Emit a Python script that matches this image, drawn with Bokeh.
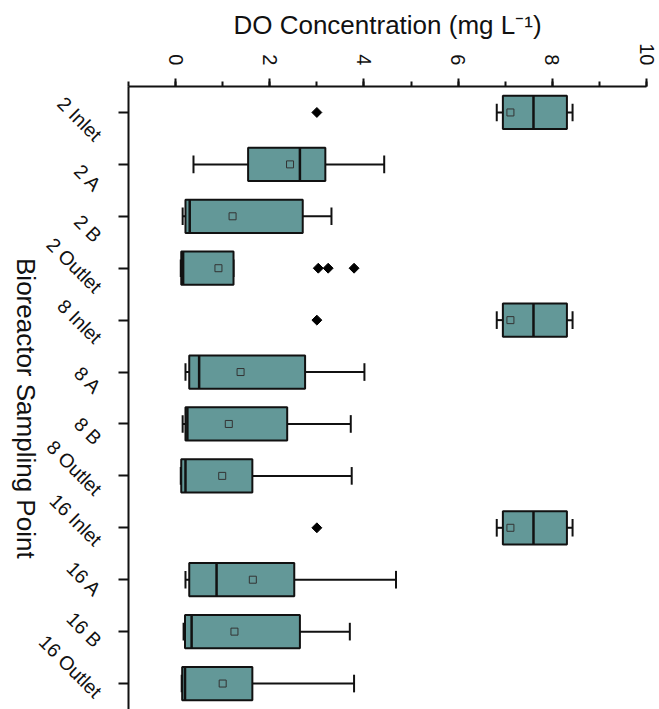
import math
import numpy as np
from bokeh.plotting import figure
from bokeh.layouts import row
from bokeh.models import Range1d, FixedTicker, SingleIntervalTicker, ColumnDataSource
from bokeh.core.properties import value
from bokeh.embed import file_html
from bokeh.resources import INLINE

categories = ["2 Inlet", "2 A", "2 B", "2 Outlet", "8 Inlet", "8 A", "8 B", "8 Outlet",
              "16 Inlet", "16 A", "16 B", "16 Outlet"]
whisker_low = [6.82, 0.38, 0.15, 0.11, 6.82, 0.21, 0.15, 0.11, 6.82, 0.21, 0.17, 0.13]
q1 = [6.95, 1.54, 0.21, 0.12, 6.95, 0.29, 0.21, 0.12, 6.95, 0.29, 0.20, 0.14]
median = [7.60, 2.64, 0.30, 0.16, 7.60, 0.50, 0.25, 0.21, 7.60, 0.87, 0.34, 0.20]
q3 = [8.31, 3.18, 2.70, 1.23, 8.31, 2.75, 2.37, 1.63, 8.31, 2.52, 2.64, 1.63]
whisker_high = [8.43, 4.43, 3.31, 1.23, 8.43, 4.01, 3.72, 3.74, 8.43, 4.68, 3.70, 3.79]
mean = [7.11, 2.43, 1.21, 0.91, 7.11, 1.38, 1.13, 0.99, 7.11, 1.64, 1.25, 1.00]
outlier_cat = ["2 Inlet", "2 Outlet", "2 Outlet", "2 Outlet", "8 Inlet", "16 Inlet"]
outlier_val = [3.00, 3.03, 3.24, 3.79, 3.00, 3.00]
x_title = "DO Concentration (mg L\u207b\u00b9)"
y_title = ["Bioreactor Sampling Point"]

FONT = "Liberation Sans"
FILL = "#639898"
INK = "#111111"
BOX_H = 0.64
CAP_H = 0.34
LABEL_DROP = 0.2
LEFT_W = 118
TICK_OUT = 10
TOP = 86
TOP_L = 70
H = 709

ypos = np.arange(1, len(categories) + 1)
src = ColumnDataSource(dict(
    y=ypos, lo=whisker_low, q1=q1, med=median, q3=q3, hi=whisker_high, mean=mean,
    yb0=ypos - BOX_H / 2, yb1=ypos + BOX_H / 2,
    yc0=ypos - CAP_H / 2, yc1=ypos + CAP_H / 2,
))
out_y = [categories.index(c) + 1 for c in outlier_cat]
y_lo, y_hi = 12.5, 0.5
y_range = Range1d(y_lo, y_hi)
units_per_px = (y_lo - y_hi) / (H - TOP)

# ---- left panel: vertical axis title and slanted category labels ----
# same vertical scale as the main plot; its frame starts a little higher
lp = figure(width=LEFT_W, height=H, output_backend="svg", toolbar_location=None,
            title=None,
            x_range=Range1d(0, LEFT_W),
            y_range=Range1d(y_lo, y_hi - (TOP - TOP_L) * units_per_px),
            x_axis_type=None, y_axis_type=None,
            min_border_left=0, min_border_right=0, min_border_top=TOP_L, min_border_bottom=0)
lp.outline_line_color = None
lp.xgrid.visible = False
lp.ygrid.visible = False
lp.text(x=[25], y=[6.55], text=y_title, angle=-math.pi / 2,
        text_align="center", text_baseline="middle", text_font=value(FONT),
        text_font_size="26px", text_color=INK)
lab_src = ColumnDataSource(dict(y=ypos + LABEL_DROP, text=categories))
lp.text(x=LEFT_W - 20, y="y", text="text", source=lab_src, angle=-math.pi / 4,
        text_align="right", text_baseline="middle", text_font=value(FONT),
        text_font_size="19.5px", text_color=INK)

# ---- main box plot ----
p = figure(width=659 - LEFT_W, height=H, output_backend="svg", toolbar_location=None,
           x_axis_location="above",
           x_range=Range1d(-1, 10), y_range=y_range,
           min_border_left=TICK_OUT, min_border_right=13, min_border_top=TOP,
           min_border_bottom=0)
p.outline_line_color = None
p.xgrid.visible = False
p.ygrid.visible = False

p.segment(x0="lo", y0="y", x1="q1", y1="y", source=src, line_color=INK, line_width=2)
p.segment(x0="q3", y0="y", x1="hi", y1="y", source=src, line_color=INK, line_width=2)
p.segment(x0="lo", y0="yc0", x1="lo", y1="yc1", source=src, line_color=INK, line_width=2)
p.segment(x0="hi", y0="yc0", x1="hi", y1="yc1", source=src, line_color=INK, line_width=2)
p.hbar(y="y", left="q1", right="q3", height=BOX_H, source=src,
       fill_color=FILL, line_color=INK, line_width=2)
p.segment(x0="med", y0="yb0", x1="med", y1="yb1", source=src, line_color=INK, line_width=2.5)
p.scatter(x="mean", y="y", source=src, marker="square", size=7,
          fill_alpha=0, line_color="#333333", line_width=1)
p.scatter(x=outlier_val, y=out_y, marker="square", angle=math.pi / 4, size=7,
          fill_color="black", line_color="black")

xa = p.xaxis[0]
xa.ticker = SingleIntervalTicker(interval=2, num_minor_ticks=2)
xa.axis_label = x_title
xa.axis_label_text_font = FONT
xa.axis_label_text_font_size = "26px"
xa.axis_label_text_font_style = "normal"
xa.axis_label_text_color = INK
xa.axis_label_standoff = 0
xa.major_label_orientation = -math.pi / 2
xa.major_label_text_font = FONT
xa.major_label_text_font_size = "20px"
xa.major_label_text_color = INK
xa.major_label_standoff = 13
xa.axis_line_width = 2
xa.axis_line_color = INK
xa.major_tick_line_width = 2
xa.major_tick_line_color = INK
xa.minor_tick_line_width = 2
xa.minor_tick_line_color = INK
xa.major_tick_out = 8
xa.major_tick_in = 0
xa.minor_tick_out = 5
xa.minor_tick_in = 0

# left axis: line and ticks only (labels are drawn in the left panel)
ya = p.yaxis[0]
ya.ticker = FixedTicker(ticks=[float(v) for v in ypos])
ya.major_label_overrides = {float(v): "" for v in ypos}
ya.major_label_standoff = 0
ya.major_label_text_font_size = "0px"
ya.axis_line_width = 2
ya.axis_line_color = INK
ya.major_tick_line_width = 2
ya.major_tick_line_color = INK
ya.major_tick_out = TICK_OUT
ya.major_tick_in = 0
ya.minor_tick_line_color = None

layout = row(lp, p, spacing=0)
open("out.html", "w").write(file_html(layout, INLINE))
